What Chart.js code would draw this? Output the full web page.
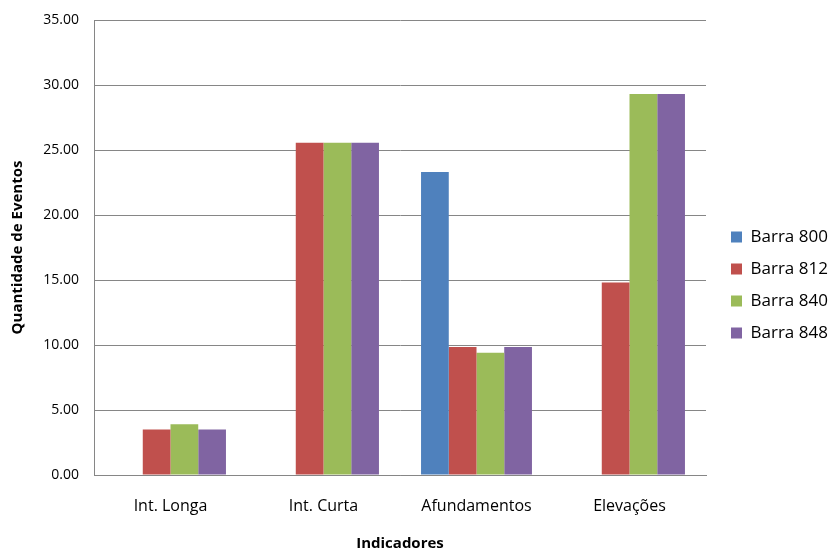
<!DOCTYPE html>
<html>
<head>
<meta charset="utf-8">
<script src="https://cdn.jsdelivr.net/npm/chart.js@4/dist/chart.umd.min.js"></script>
<style>
  html, body { margin: 0; padding: 0; background: #fff; }
  #wrap { width: 829px; height: 549px; }
</style>
</head>
<body>
<div id="wrap"><canvas id="myChart" width="829" height="549"></canvas></div>
<script>
const categories = ['Int. Longa', 'Int. Curta', 'Afundamentos', 'Elevações'];
const seriesNames = ['Barra 800', 'Barra 812', 'Barra 840', 'Barra 848'];
const barra800 = [0, 0, 23.3, 0];
const barra812 = [3.5, 25.55, 9.85, 14.8];
const barra840 = [3.9, 25.55, 9.4, 29.3];
const barra848 = [3.5, 25.55, 9.85, 29.3];
const yTicks = [0, 5, 10, 15, 20, 25, 30, 35];

const colors = ['#4F81BD', '#C0504D', '#9BBB59', '#8064A2'];
const values = [barra800, barra812, barra840, barra848];

Chart.defaults.font.family = "'Open Sans', sans-serif";
Chart.defaults.color = '#000';

// keep the legend box at the width of the right margin and place it like the original
const legendFix = {
    id: 'legendFix',
    afterInit(chart) {
        const lg = chart.legend;
        const fit = lg.fit.bind(lg);
        lg.fit = function () {
            fit();
            this.width = 123;
        };
    },
    afterLayout(chart) {
        const lg = chart.legend;
        lg.left = 716;
        lg.top = 213.5;
    }
};

const data = {
    labels: categories,
    datasets: seriesNames.map((name, i) => ({
        label: name,
        data: values[i],
        backgroundColor: colors[i],
        borderWidth: 0,
        categoryPercentage: 0.725,
        barPercentage: 1
    }))
};

const config = {
    type: 'bar',
    data: data,
    options: {
        responsive: false,
        animation: false,
        layout: { padding: { top: 20, right: 0, bottom: 0, left: 0 } },
        plugins: {
            tooltip: { enabled: false },
            legend: {
                position: 'right',
                align: 'start',
                labels: {
                    boxWidth: 11,
                    boxHeight: 11,
                    padding: 15,
                    font: { size: 17 }
                }
            }
        },
        scales: {
            x: {
                grid: { display: false, drawTicks: false },
                border: { display: true, color: '#868686', width: 1 },
                ticks: { padding: 22, font: { size: 16 } },
                title: {
                    display: true,
                    text: 'Indicadores',
                    font: { size: 15, weight: 'bold' },
                    padding: { top: 0, bottom: -4 }
                },
                afterFit(scale) { scale.height = 74; }
            },
            y: {
                min: 0,
                max: 35,
                grid: { color: '#868686', drawTicks: false },
                border: { display: true, color: '#868686', width: 1 },
                afterBuildTicks(scale) {
                    scale.ticks = yTicks.map(v => ({ value: v }));
                },
                ticks: {
                    padding: 15,
                    font: { size: 14 },
                    callback: v => Number(v).toFixed(2)
                },
                title: {
                    display: true,
                    text: 'Quantidade de Eventos',
                    font: { size: 15, weight: 'bold' },
                    padding: { top: 9, bottom: 0 }
                },
                afterFit(scale) {
                    scale.width = 94;
                    scale.paddingTop = 0;
                    scale.paddingBottom = 0;
                }
            }
        }
    },
    plugins: [legendFix]
};

new Chart(document.getElementById('myChart'), config);
</script>
</body>
</html>
